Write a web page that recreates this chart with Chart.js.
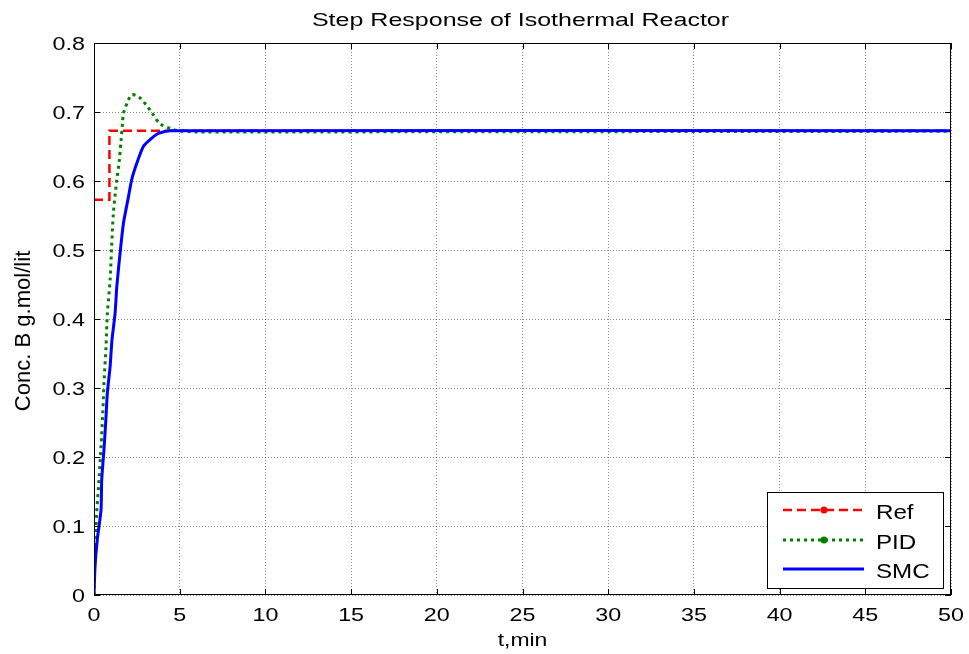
<!DOCTYPE html>
<html>
<head>
<meta charset="utf-8">
<script src="https://cdn.jsdelivr.net/npm/chart.js@4.4.1/dist/chart.umd.min.js"></script>
<style>
  html, body { margin: 0; padding: 0; background: #fff; }
  #wrap { width: 969px; height: 654px; }
</style>
</head>
<body>
<div id="wrap"><canvas id="chart" width="969" height="654"></canvas></div>
<script>
/* ══════════════════════════════════════
   DATA
══════════════════════════════════════ */
const seriesNames = ["Ref", "PID", "SMC"];

const xTicks = [0, 5, 10, 15, 20, 25, 30, 35, 40, 45, 50];
const yTicks = [0, 0.1, 0.2, 0.3, 0.4, 0.5, 0.6, 0.7, 0.8];

const refT = [0, 0.9, 50];
const refV = [0.573, 0.673, 0.673];

const pidT = [0, 0.05, 0.16, 0.3, 0.41, 0.51, 0.59, 0.7, 0.78, 0.94, 1.03, 1.13, 1.33, 1.46, 1.58, 1.66, 1.72, 2.0, 2.2, 2.45, 2.7, 3.05, 3.4, 3.85, 4.45, 4.85, 6, 7.8, 50];
const pidV = [0, 0.06, 0.12, 0.17, 0.215, 0.263, 0.311, 0.36, 0.408, 0.457, 0.505, 0.553, 0.602, 0.626, 0.659, 0.683, 0.698, 0.717, 0.725, 0.724, 0.72, 0.71, 0.698, 0.683, 0.676, 0.673, 0.671, 0.671, 0.672];

const smcT = [0, 0.06, 0.19, 0.41, 0.45, 0.58, 0.68, 0.78, 0.94, 1.05, 1.23, 1.33, 1.52, 1.72, 2.01, 2.2, 2.5, 2.88, 3.37, 3.76, 4.44, 50];
const smcV = [0, 0.041, 0.08, 0.123, 0.167, 0.21, 0.249, 0.293, 0.331, 0.37, 0.408, 0.447, 0.495, 0.539, 0.577, 0.602, 0.626, 0.65, 0.662, 0.669, 0.673, 0.673];

const titleText = "Step Response of Isothermal Reactor";
const xLabel = "t,min";
const yLabel = "Conc. B g.mol/lit";

/* ══════════════════════════════════════
   HELPERS
══════════════════════════════════════ */
const FONT = "'Liberation Sans', Arial, Helvetica, sans-serif";

function toPoints(xs, ys) {
  return xs.map((x, i) => ({ x, y: ys[i] }));
}

// MATLAB export looks horizontally stretched, so text is drawn scaled
function wideText(ctx, text, x, y, size, sx, align) {
  ctx.save();
  ctx.translate(x, y);
  ctx.scale(sx, 1);
  ctx.font = `${size}px ${FONT}`;
  ctx.textAlign = align;
  ctx.textBaseline = "alphabetic";
  ctx.fillStyle = "#000";
  ctx.fillText(text, 0, 0);
  ctx.restore();
}

/* ══════════════════════════════════════
   FRAME / TEXT / LEGEND PLUGIN
══════════════════════════════════════ */
const matlabFrame = {
  id: "matlabFrame",
  afterDatasetsDraw(chart) {
    const { ctx, chartArea: a, scales } = chart;
    const xs = scales.x;
    const ys = scales.y;

    // box
    ctx.save();
    ctx.strokeStyle = "#000";
    ctx.lineWidth = 1;
    ctx.setLineDash([]);
    ctx.strokeRect(a.left + 0.5, a.top + 0.5, a.right - a.left - 1, a.bottom - a.top - 1);

    // inward ticks
    ctx.beginPath();
    xs.ticks.forEach((t) => {
      const px = Math.round(xs.getPixelForValue(t.value)) + 0.5;
      ctx.moveTo(px, a.bottom);
      ctx.lineTo(px, a.bottom - 6);
      ctx.moveTo(px, a.top);
      ctx.lineTo(px, a.top + 6);
    });
    ys.ticks.forEach((t) => {
      const py = Math.round(ys.getPixelForValue(t.value)) + 0.5;
      ctx.moveTo(a.left, py);
      ctx.lineTo(a.left + 6, py);
      ctx.moveTo(a.right, py);
      ctx.lineTo(a.right - 6, py);
    });
    ctx.stroke();
    ctx.restore();

    // tick labels
    xs.ticks.forEach((t) => {
      wideText(ctx, String(t.value), xs.getPixelForValue(t.value), a.bottom + 26, 18.5, 1.26, "center");
    });
    ys.ticks.forEach((t) => {
      const lbl = t.value === 0 ? "0" : t.value.toFixed(1);
      wideText(ctx, lbl, a.left - 9, ys.getPixelForValue(t.value) + 6.5, 18.5, 1.26, "right");
    });

    // titles
    const cx = (a.left + a.right) / 2;
    wideText(ctx, titleText, cx - 2, 26, 18, 1.39, "center");
    wideText(ctx, xLabel, cx, 646, 18.5, 1.24, "center");

    ctx.save();
    ctx.translate(24, 331);
    ctx.rotate(-Math.PI / 2);
    ctx.scale(1.05, 1.05);
    ctx.font = `21px ${FONT}`;
    ctx.textAlign = "center";
    ctx.textBaseline = "middle";
    ctx.fillStyle = "#000";
    ctx.fillText(yLabel, 0, 0);
    ctx.restore();

    // legend
    const box = { x: 767, y: 492, w: 176, h: 96 };
    ctx.save();
    ctx.fillStyle = "#fff";
    ctx.fillRect(box.x, box.y, box.w, box.h);
    ctx.strokeStyle = "#000";
    ctx.lineWidth = 1;
    ctx.strokeRect(box.x + 0.5, box.y + 0.5, box.w, box.h);
    ctx.restore();

    const rows = [510, 540, 569];
    chart.data.datasets.forEach((ds, i) => {
      const ly = rows[i];
      ctx.save();
      ctx.strokeStyle = ds.borderColor;
      ctx.lineWidth = ds.borderWidth;
      ctx.setLineDash(ds.borderDash || []);
      ctx.beginPath();
      ctx.moveTo(783, ly);
      ctx.lineTo(864, ly);
      ctx.stroke();
      if (ds.legendMarker) {
        ctx.setLineDash([]);
        ctx.fillStyle = ds.borderColor;
        ctx.beginPath();
        ctx.arc(824, ly, 3.5, 0, Math.PI * 2);
        ctx.fill();
      }
      ctx.restore();
      wideText(ctx, ds.label, 876, ly + 9, 21, 1.15, "left");
    });
  },
};

/* ══════════════════════════════════════
   CHART
══════════════════════════════════════ */
const axisCommon = {
  type: "linear",
  grid: {
    color: "rgba(0,0,0,0.45)",
    lineWidth: 1,
    drawTicks: false,
  },
  border: { display: false, dash: [1, 2] },
  ticks: { display: false },
};

new Chart(document.getElementById("chart"), {
  type: "line",
  data: {
    datasets: [
      {
        label: seriesNames[0],
        data: toPoints(refT, refV),
        borderColor: "#ff0000",
        borderWidth: 2.5,
        borderDash: [9, 5],
        stepped: "before",
        order: 2,
        legendMarker: true,
      },
      {
        label: seriesNames[1],
        data: toPoints(pidT, pidV),
        borderColor: "#008000",
        borderWidth: 3,
        borderDash: [3, 4],
        tension: 0.3,
        order: 1,
        legendMarker: true,
      },
      {
        label: seriesNames[2],
        data: toPoints(smcT, smcV),
        borderColor: "#0000ff",
        borderWidth: 3,
        tension: 0.2,
        order: 0,
        legendMarker: false,
      },
    ],
  },
  options: {
    responsive: false,
    animation: false,
    devicePixelRatio: 1,
    layout: { padding: { left: 0, right: 18, top: 43, bottom: 0 } },
    elements: { point: { radius: 0 } },
    plugins: {
      legend: { display: false },
      title: { display: false },
      tooltip: { enabled: false },
    },
    scales: {
      x: {
        ...axisCommon,
        min: 0,
        max: 50,
        afterBuildTicks: (s) => { s.ticks = xTicks.map((v) => ({ value: v })); },
        afterFit: (s) => { s.height = 59; },
      },
      y: {
        ...axisCommon,
        min: 0,
        max: 0.8,
        afterBuildTicks: (s) => { s.ticks = yTicks.map((v) => ({ value: v })); },
        afterFit: (s) => { s.width = 94; },
      },
    },
  },
  plugins: [matlabFrame],
});
</script>
</body>
</html>
